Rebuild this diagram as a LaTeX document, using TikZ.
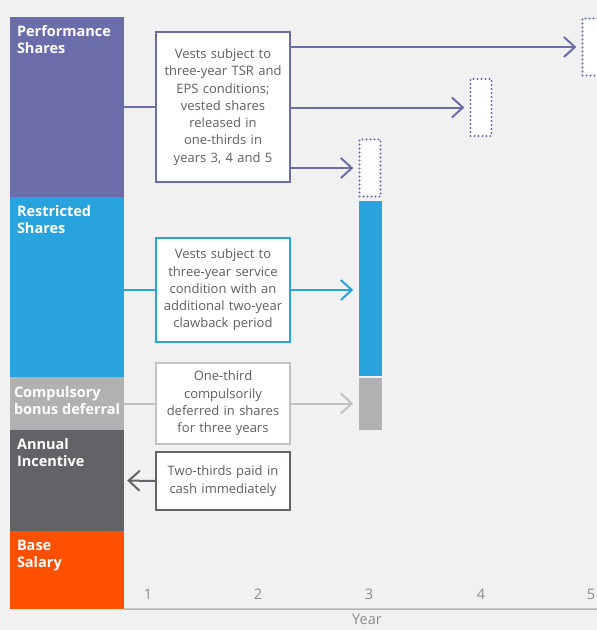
\documentclass[tikz,border=0pt]{standalone}
\usepackage{fontspec}
\setmainfont{Open Sans}
\usetikzlibrary{arrows.meta,positioning}
\definecolor{bg}{HTML}{F0F1F0}
\definecolor{cperf}{HTML}{6A6DAA}
\definecolor{crest}{HTML}{29A3DD}
\definecolor{ccomp}{HTML}{B1B1B3}
\definecolor{cline}{HTML}{C2C2C2}
\definecolor{cann}{HTML}{616366}
\definecolor{cbase}{HTML}{FF5000}
\definecolor{ctext}{HTML}{5F5F5F}
\definecolor{caxis}{HTML}{8C8C8C}

\begin{document}
\begin{tikzpicture}[x=1pt,y=-1pt,>={Straight Barb[length=11pt,width=20pt]},
    band/.style={rectangle,inner sep=0pt,minimum width=114pt},
    bandlab/.style={anchor=north west,inner sep=0pt,text=white,font=\fontsize{14.5}{17.5}\selectfont\bfseries,align=left},
    note/.style={rectangle,draw,line width=2pt,fill=white,text width=130pt,align=center,minimum width=134pt,inner sep=0pt,text=ctext,font=\fontsize{13}{17.3}\selectfont},
    vest/.style={rectangle,draw=cperf,line width=2.2pt,dash pattern=on 0pt off 4pt,line cap=round,fill=white,minimum width=21pt,minimum height=57pt,inner sep=0pt},
    bar/.style={rectangle,inner sep=0pt,minimum width=23pt},
    year/.style={text=caxis,font=\fontsize{14.5}{16}\selectfont},
    link/.style={line width=2pt},
  ]
  \clip (0,0) rectangle (597,630);
  \fill[bg] (0,0) rectangle (597,630);

  % pay elements
  \node[band,fill=cperf,minimum height=180pt] (perf)   at (67,107) {};
  \node[band,fill=crest,minimum height=180pt] (rest)   at (67,287) {};
  \node[band,fill=ccomp,minimum height=53pt]  (comp)   at (67,403.5) {};
  \node[band,fill=cann,minimum height=101pt]  (annual) at (67,480.5) {};
  \node[band,fill=cbase,minimum height=78pt]  (base)   at (67,570) {};
  \node[bandlab] (perflab)   at ([shift={(7,8)}]perf.north west) {Performance\\Shares};
  \node[bandlab] (restlab)   at ([shift={(7,8)}]rest.north west) {Restricted\\Shares};
  \node[bandlab] (complab)   at ([shift={(4,9)}]comp.north west) {Compulsory\\bonus deferral};
  \node[bandlab] (annuallab) at ([shift={(7,8)}]annual.north west) {Annual\\Incentive};
  \node[bandlab] (baselab)   at ([shift={(7,9)}]base.north west) {Base\\Salary};

  \node[note,draw=cperf,minimum height=150pt] (perfnote) at (223,107) {Vests subject to\\three-year TSR and\\EPS conditions;\\vested shares\\released in\\one-thirds in\\years 3, 4 and 5};
  \node[note,draw=crest,minimum height=104pt] (restnote) at (223,290) {Vests subject to\\three-year service\\condition with an\\additional two-year\\clawback period};
  \node[note,draw=cline,minimum height=81pt]  (compnote) at (223,403.5) {One-third\\compulsorily\\deferred in shares\\for three years};
  \node[note,draw=cann,minimum height=58pt]   (cashnote) at (223,481) {Two-thirds paid in\\cash immediately};

  % vesting
  \node[vest] (v3) at (370,168) {};
  \node[vest] (v4) at (481,107.5) {};
  \node[vest] (v5) at (593,47) {};
  \node[bar,fill=crest,minimum height=175pt] (bar3r) at (370,288.5) {};
  \node[bar,fill=ccomp,minimum height=52pt]  (bar3c) at (370,403.5) {};

  \draw[link,cperf] (perf.east) -- (perfnote.west);
  \draw[link,cperf,->,shorten >=5pt] (perfnote.east |- v5.west) -- (v5.west);
  \draw[link,cperf,->,shorten >=5pt] (perfnote.east |- v4.west) -- (v4.west);
  \draw[link,cperf,->,shorten >=5pt] (perfnote.east |- v3.west) -- (v3.west);
  \draw[link,crest] (rest.east |- restnote.west) -- (restnote.west);
  \draw[link,crest,->,shorten >=5pt] (restnote.east) -- (bar3r.west |- restnote.east);
  \draw[link,cline] (comp.east) -- (compnote.west);
  \draw[link,cline,->,shorten >=5pt] (compnote.east) -- (bar3c.west);
  \draw[link,cann,->,shorten >=3pt] (cashnote.west) -- (annual.east);

  % years
  \coordinate (axisend) at (597,609);
  \draw[caxis,line width=1pt] (base.south east) -- (axisend);
  \foreach \i/\x in {1/148,2/258,3/369,4/481,5/591}
    \node[year] (yr\i) at (\x,594) {\i};
  \node[year,inner sep=1pt] (yearlab) at (367,619.5) {Year};
\end{tikzpicture}
\end{document}
